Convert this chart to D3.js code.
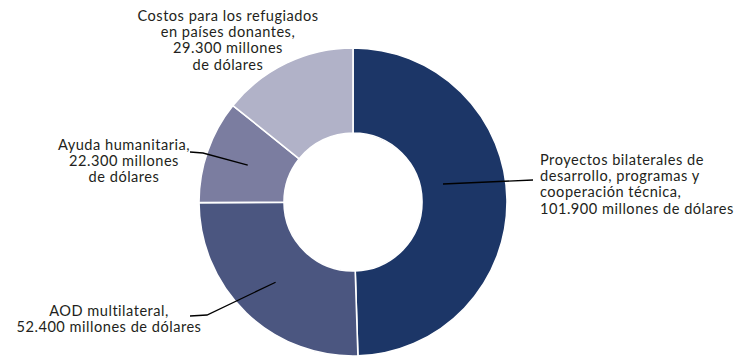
<!DOCTYPE html>
<html><head><meta charset="utf-8">
<script src="https://cdn.jsdelivr.net/npm/d3@7"></script>
<style>
html,body{margin:0;padding:0;background:#fff;}
svg{display:block;}
text{font-family:Lato, "Open Sans", sans-serif;font-size:14.6px;letter-spacing:0.5px;fill:#231f20;}
</style></head>
<body>
<svg id="c" width="748" height="357"></svg>
<script>
const categories = ["Proyectos bilaterales de desarrollo, programas y cooperación técnica", "AOD multilateral", "Ayuda humanitaria", "Costos para los refugiados en países donantes"];
const values = [101.9, 52.4, 22.3, 29.3];
const labelLines = [
  ["Proyectos bilaterales de", "desarrollo, programas y", "cooperación técnica,", "101.900 millones de dólares"],
  ["AOD multilateral,", "52.400 millones de dólares"],
  ["Ayuda humanitaria,", "22.300 millones", "de dólares"],
  ["Costos para los refugiados", "en países donantes,", "29.300 millones", "de dólares"]
];
const colors = ["#1c3667", "#4b5680", "#7b7da0", "#b1b2c8"];

const svg = d3.select("#c");
const cx = 353, cy = 202, rOut = 154, rIn = 69;
const g = svg.append("g").attr("transform", `translate(${cx},${cy})`);
const pie = d3.pie().sort(null).value(d => d)(values);
const arc = d3.arc().innerRadius(rIn).outerRadius(rOut);
g.selectAll("path").data(pie).join("path")
  .attr("d", arc).attr("fill", (d,i) => colors[i])
  .attr("stroke", "#fff").attr("stroke-width", 1.6);

// label layout: text anchor point, alignment, leader line points
const layout = [
  {x: 540, y: 165, anchor: "start", line: d => [[443-cx, 184-cy], [533-cx, 180-cy]]},
  {x: 109, y: 316, anchor: "middle", line: d => { const c = arc.centroid(d); return [c, [207-cx, 315-cy], [190-cx, 316-cy]]; }},
  {x: 124, y: 150, anchor: "middle", line: d => { const c = arc.centroid(d); return [c, [203-cx, 153-cy], [190-cx, 152-cy]]; }},
  {x: 228, y: 21, anchor: "middle", line: null}
];
const lh = 16.2;
pie.forEach((d, i) => {
  const L = layout[i];
  if (L.line) {
    g.append("path").attr("d", d3.line()(L.line(d)))
      .attr("fill", "none").attr("stroke", "#000").attr("stroke-width", 1.3);
  }
  const t = svg.append("text").attr("text-anchor", L.anchor);
  labelLines[i].forEach((s, k) => {
    t.append("tspan").attr("x", L.x).attr("y", L.y + k * lh).text(s);
  });
});
</script>
</body></html>
